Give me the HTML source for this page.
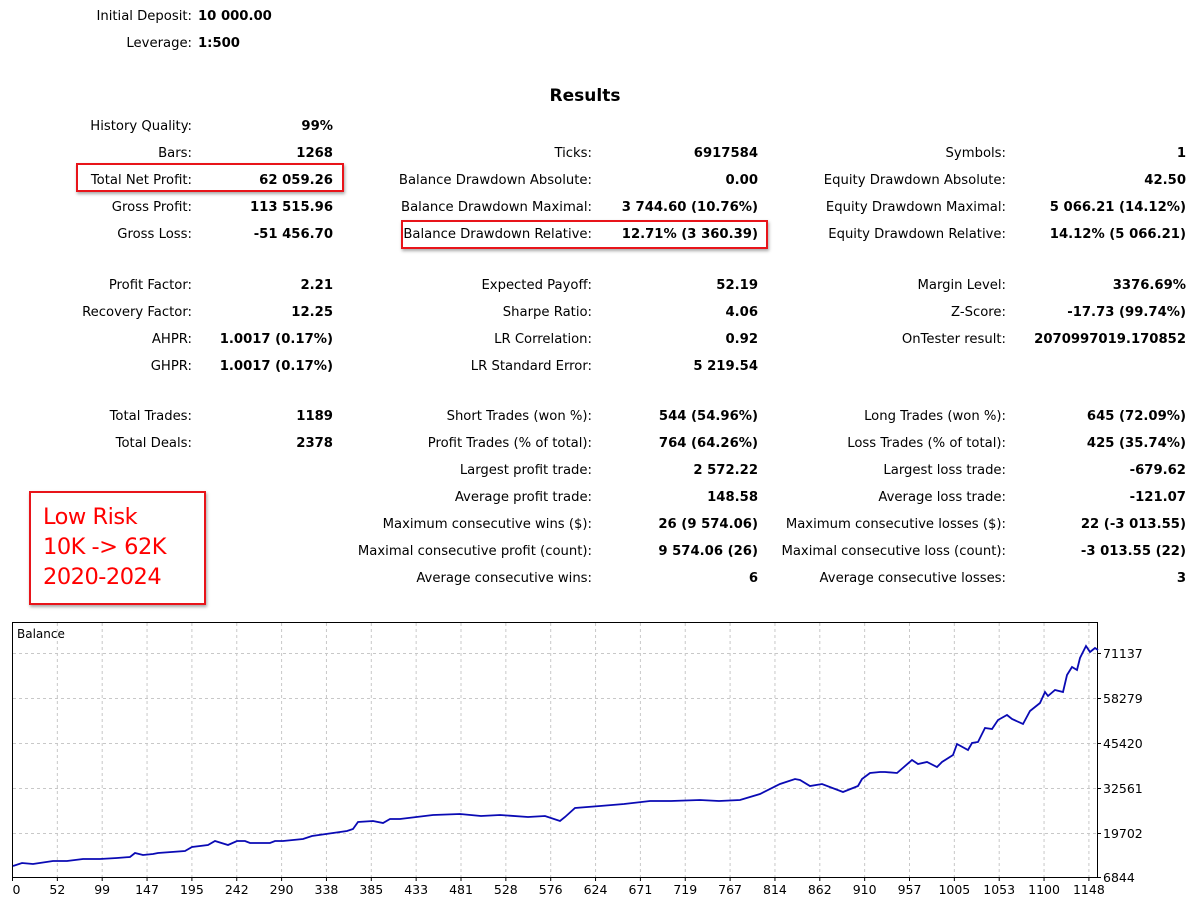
<!DOCTYPE html>
<html><head><meta charset="utf-8"><style>
body{margin:0;width:1200px;height:912px;background:#fff;position:relative;overflow:hidden;font-family:"DejaVu Sans","Liberation Sans",sans-serif;color:#000}
.l,.v{position:absolute;font-size:13.2px;white-space:nowrap;line-height:16px;text-align:right}
.v{font-weight:bold}
.box{position:absolute;border:2.5px solid #e8141a;box-shadow:1px 2px 3px rgba(0,0,0,.35)}
</style></head><body>
<div id="t"></div>
<div style="position:absolute;left:0;top:86px;width:1170px;text-align:center;font-weight:bold;font-size:17px;font-family:'DejaVu Sans',sans-serif">Results</div>
<div class="box" style="left:76px;top:163px;width:264px;height:25px"></div>
<div class="box" style="left:401px;top:220px;width:363px;height:25px"></div>
<div class="box" style="left:29px;top:491px;width:173px;height:110px;"></div>
<div style="position:absolute;left:43px;top:502px;color:#f00;font-family:'DejaVu Sans',sans-serif;font-size:22.5px;line-height:30px;letter-spacing:-0.5px">Low Risk<br>10K -&gt; 62K<br>2020-2024</div>
<svg style="position:absolute;left:0;top:0" width="1200" height="912">
<rect x="12.5" y="622.5" width="1085" height="255" fill="none" stroke="#000" stroke-width="1"/>
<g stroke="#c8c8c8" stroke-dasharray="3,3" stroke-width="1">
<line x1="13" x2="1097" y1="653.5" y2="653.5"/><line x1="13" x2="1097" y1="698.5" y2="698.5"/><line x1="13" x2="1097" y1="743.5" y2="743.5"/><line x1="13" x2="1097" y1="788.5" y2="788.5"/><line x1="13" x2="1097" y1="833.5" y2="833.5"/>
</g>
<g id="vg" stroke="#c8c8c8" stroke-dasharray="3,3" stroke-width="1"></g>
<g id="xt" font-family="DejaVu Sans,sans-serif" font-size="12.5" text-anchor="middle" fill="#000"></g>
<g font-family="DejaVu Sans,sans-serif" font-size="12.5" fill="#000">
<text x="1103" y="658">71137</text><text x="1103" y="703">58279</text><text x="1103" y="748">45420</text><text x="1103" y="793">32561</text><text x="1103" y="838">19702</text><text x="1103" y="882">6844</text>
<text x="17" y="638" font-size="12">Balance</text>
</g>
<g stroke="#000"><line x1="1097" x2="1101" y1="653.5" y2="653.5"/><line x1="1097" x2="1101" y1="698.5" y2="698.5"/><line x1="1097" x2="1101" y1="743.5" y2="743.5"/><line x1="1097" x2="1101" y1="788.5" y2="788.5"/><line x1="1097" x2="1101" y1="833.5" y2="833.5"/><line x1="1097" x2="1101" y1="877.5" y2="877.5"/></g>
<polyline fill="none" stroke="#0a0ab4" stroke-width="1.8" points="13,866 22,863 33,864 53,861 67,861 83,859 100,859 117,858 130,857 135,853 143,855 153,854 158,853 185,851 192,847 208,845 215,841 228,845 237,841 245,841 250,843 270,843 275,841 283,841 303,839 312,836 333,833 347,831 353,829 358,822 373,821 383,823 390,819 400,819 433,815 460,814 481,816 500,815 528,817 545,816 560,821 565,817 575,808 600,806 624,804 650,801 671,801 700,800 719,801 740,800 760,794 780,784 795,779 800,780 810,786 822,784 843,792 858,786 862,779 870,773 880,772 885,772 897,773 912,760 918,764 927,762 937,767 942,762 953,755 957,744 968,750 972,743 978,742 985,728 992,729 998,720 1007,715 1012,719 1023,724 1030,711 1040,703 1045,692 1048,696 1055,690 1063,692 1067,675 1072,667 1077,670 1080,658 1086,646 1090,652 1095,648 1098,650"/>
</svg>
<script>
var rows=[
[192,15,"Initial Deposit:",278,"10 000.00",1],
[192,42,"Leverage:",246,"1:500",1],
[192,125,"History Quality:",333,"99%"],
[192,152,"Bars:",333,"1268"],
[192,179,"Total Net Profit:",333,"62 059.26"],
[192,206,"Gross Profit:",333,"113 515.96"],
[192,233,"Gross Loss:",333,"-51 456.70"],
[592,152,"Ticks:",758,"6917584"],
[592,179,"Balance Drawdown Absolute:",758,"0.00"],
[592,206,"Balance Drawdown Maximal:",758,"3 744.60 (10.76%)"],
[592,233,"Balance Drawdown Relative:",758,"12.71% (3 360.39)"],
[1006,152,"Symbols:",1186,"1"],
[1006,179,"Equity Drawdown Absolute:",1186,"42.50"],
[1006,206,"Equity Drawdown Maximal:",1186,"5 066.21 (14.12%)"],
[1006,233,"Equity Drawdown Relative:",1186,"14.12% (5 066.21)"],
[192,284,"Profit Factor:",333,"2.21"],
[192,311,"Recovery Factor:",333,"12.25"],
[192,338,"AHPR:",333,"1.0017 (0.17%)"],
[192,365,"GHPR:",333,"1.0017 (0.17%)"],
[592,284,"Expected Payoff:",758,"52.19"],
[592,311,"Sharpe Ratio:",758,"4.06"],
[592,338,"LR Correlation:",758,"0.92"],
[592,365,"LR Standard Error:",758,"5 219.54"],
[1006,284,"Margin Level:",1186,"3376.69%"],
[1006,311,"Z-Score:",1186,"-17.73 (99.74%)"],
[1006,338,"OnTester result:",1186,"2070997019.170852"],
[192,415,"Total Trades:",333,"1189"],
[192,442,"Total Deals:",333,"2378"],
[592,415,"Short Trades (won %):",758,"544 (54.96%)"],
[592,442,"Profit Trades (% of total):",758,"764 (64.26%)"],
[592,469,"Largest profit trade:",758,"2 572.22"],
[592,496,"Average profit trade:",758,"148.58"],
[592,523,"Maximum consecutive wins ($):",758,"26 (9 574.06)"],
[592,550,"Maximal consecutive profit (count):",758,"9 574.06 (26)"],
[592,577,"Average consecutive wins:",758,"6"],
[1006,415,"Long Trades (won %):",1186,"645 (72.09%)"],
[1006,442,"Loss Trades (% of total):",1186,"425 (35.74%)"],
[1006,469,"Largest loss trade:",1186,"-679.62"],
[1006,496,"Average loss trade:",1186,"-121.07"],
[1006,523,"Maximum consecutive losses ($):",1186,"22 (-3 013.55)"],
[1006,550,"Maximal consecutive loss (count):",1186,"-3 013.55 (22)"],
[1006,577,"Average consecutive losses:",1186,"3"]];
var h="";
rows.forEach(function(r){
h+='<div class="l" style="right:'+(1200-r[0])+'px;top:'+(r[1]-6)+'px">'+r[2]+'</div>';
if(r[5]) h+='<div class="v" style="left:'+(r[0]+6)+'px;top:'+(r[1]-6)+'px;text-align:left">'+r[4]+'</div>';
else h+='<div class="v" style="right:'+(1200-r[3])+'px;top:'+(r[1]-6)+'px">'+r[4]+'</div>';
});
document.getElementById('t').innerHTML=h;
var labs=[0,52,99,147,195,242,290,338,385,433,481,528,576,624,671,719,767,814,862,910,957,1005,1053,1100,1148];
var vg="",xt="";
labs.forEach(function(v,i){var x=12.5+i*44.85;
if(i>0) vg+='<line x1="'+x+'" x2="'+x+'" y1="623" y2="877"/>';
vg+='<line x1="'+x+'" x2="'+x+'" y1="877" y2="881" stroke="#000" stroke-dasharray="none"/>';
xt+='<text x="'+(i==0?x+4:x)+'" y="894">'+v+'</text>';});
document.getElementById('vg').innerHTML=vg;
document.getElementById('xt').innerHTML=xt;
</script>
</body></html>
